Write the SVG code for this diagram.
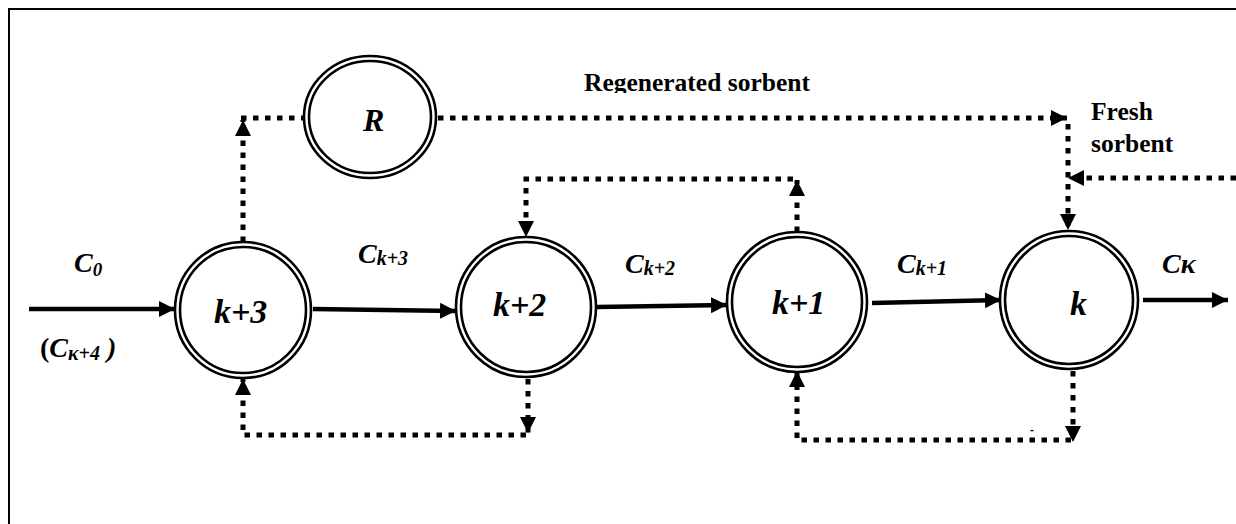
<svg xmlns="http://www.w3.org/2000/svg" width="1236" height="524" viewBox="0 0 1236 524">
<style>
.frame{fill:none;stroke:#000;stroke-width:2}
.ring{fill:#fff;stroke:#000;stroke-width:2.6}
.solid{fill:none;stroke:#000;stroke-width:4.5}
.dot{fill:none;stroke:#000;stroke-width:5;stroke-dasharray:5.5 6.5}
.lbl{font-family:"Liberation Serif","Times New Roman",serif;font-weight:bold;font-style:italic;fill:#000}
.cap{font-family:"Liberation Serif","Times New Roman",serif;font-weight:bold;fill:#000;font-size:25.5px}
</style>
<defs>
<marker id="ah" markerUnits="userSpaceOnUse" markerWidth="17" markerHeight="17" refX="16" refY="8" orient="auto">
<path d="M0,0 L16,8 L0,16 Z" fill="#000"/>
</marker>
<clipPath id="clipRegen"><rect x="500" y="60" width="400" height="33"/></clipPath>
</defs>
<rect width="1236" height="524" fill="#fff"/>
<path class="frame" d="M9,524 V9 H1236"/>

<g id="connectors">
<path class="solid" d="M29,309 L175,309" marker-end="url(#ah)"/>
<path class="solid" d="M313,309 L456,311" marker-end="url(#ah)"/>
<path class="solid" d="M597,307 L727,305" marker-end="url(#ah)"/>
<path class="solid" d="M872,303 L1001,300" marker-end="url(#ah)"/>
<path class="solid" d="M1143,300 L1228,300" marker-end="url(#ah)"/>

<path class="dot" d="M243,242 V120" marker-end="url(#ah)"/>
<path class="dot" d="M241,118 H304"/>
<path class="dot" d="M438,118 H1067" marker-end="url(#ah)"/>
<path class="dot" d="M1068,124 V230" marker-end="url(#ah)"/>
<path class="dot" d="M1236,178 H1068" marker-end="url(#ah)"/>
<path class="dot" d="M797,232 V180" marker-end="url(#ah)"/>
<path class="dot" d="M793,179 H526 V237" marker-end="url(#ah)"/>
<path class="dot" d="M528,379 V433" marker-end="url(#ah)"/>
<path class="dot" d="M526,435 H243 V379" marker-end="url(#ah)"/>
<path class="dot" d="M1073,371 V442" marker-end="url(#ah)"/>
<path class="dot" d="M1071,440 H797 V371" marker-end="url(#ah)"/>
</g>

<g id="node-R">
<ellipse class="ring" cx="370" cy="117" rx="66" ry="61"/>
<ellipse class="ring" cx="370" cy="117" rx="61" ry="56"/>
<text class="lbl" x="363" y="131" font-size="32">R</text>
</g>
<g id="node-k3">
<circle class="ring" cx="243" cy="310" r="68"/>
<circle class="ring" cx="243" cy="310" r="63"/>
<text class="lbl" x="214" y="323" font-size="34">k+3</text>
</g>
<g id="node-k2">
<circle class="ring" cx="526" cy="307" r="70"/>
<circle class="ring" cx="526" cy="307" r="65"/>
<text class="lbl" x="493" y="316" font-size="34">k+2</text>
</g>
<g id="node-k1">
<circle class="ring" cx="797" cy="302" r="70"/>
<circle class="ring" cx="797" cy="302" r="65"/>
<text class="lbl" x="772" y="314" font-size="34">k+1</text>
</g>
<g id="node-k">
<circle class="ring" cx="1069" cy="300" r="69"/>
<circle class="ring" cx="1069" cy="300" r="64"/>
<text class="lbl" x="1070" y="315" font-size="34">k</text>
</g>

<g id="labels">
<text class="cap" x="584" y="91" clip-path="url(#clipRegen)">Regenerated sorbent</text>
<text class="cap" x="1091" y="120">Fresh</text>
<text class="cap" x="1091" y="152">sorbent</text>
<text class="lbl" x="74" y="272" font-size="28">C<tspan font-size="19" dy="4">0</tspan></text>
<text class="lbl" x="40" y="357" font-size="28"><tspan font-style="normal">(</tspan>C<tspan font-size="20" dy="3">κ+4</tspan><tspan dy="-3"> )</tspan></text>
<text class="lbl" x="358" y="263" font-size="28">C<tspan font-size="20" dy="2">k+3</tspan></text>
<text class="lbl" x="625" y="273" font-size="28">C<tspan font-size="20" dy="2">k+2</tspan></text>
<text class="lbl" x="897" y="273" font-size="28">C<tspan font-size="20" dy="2">k+1</tspan></text>
<text class="lbl" x="1162" y="273" font-size="28">Cκ</text>
<text class="lbl" x="1030" y="434" font-size="12">-</text>
</g>
</svg>
